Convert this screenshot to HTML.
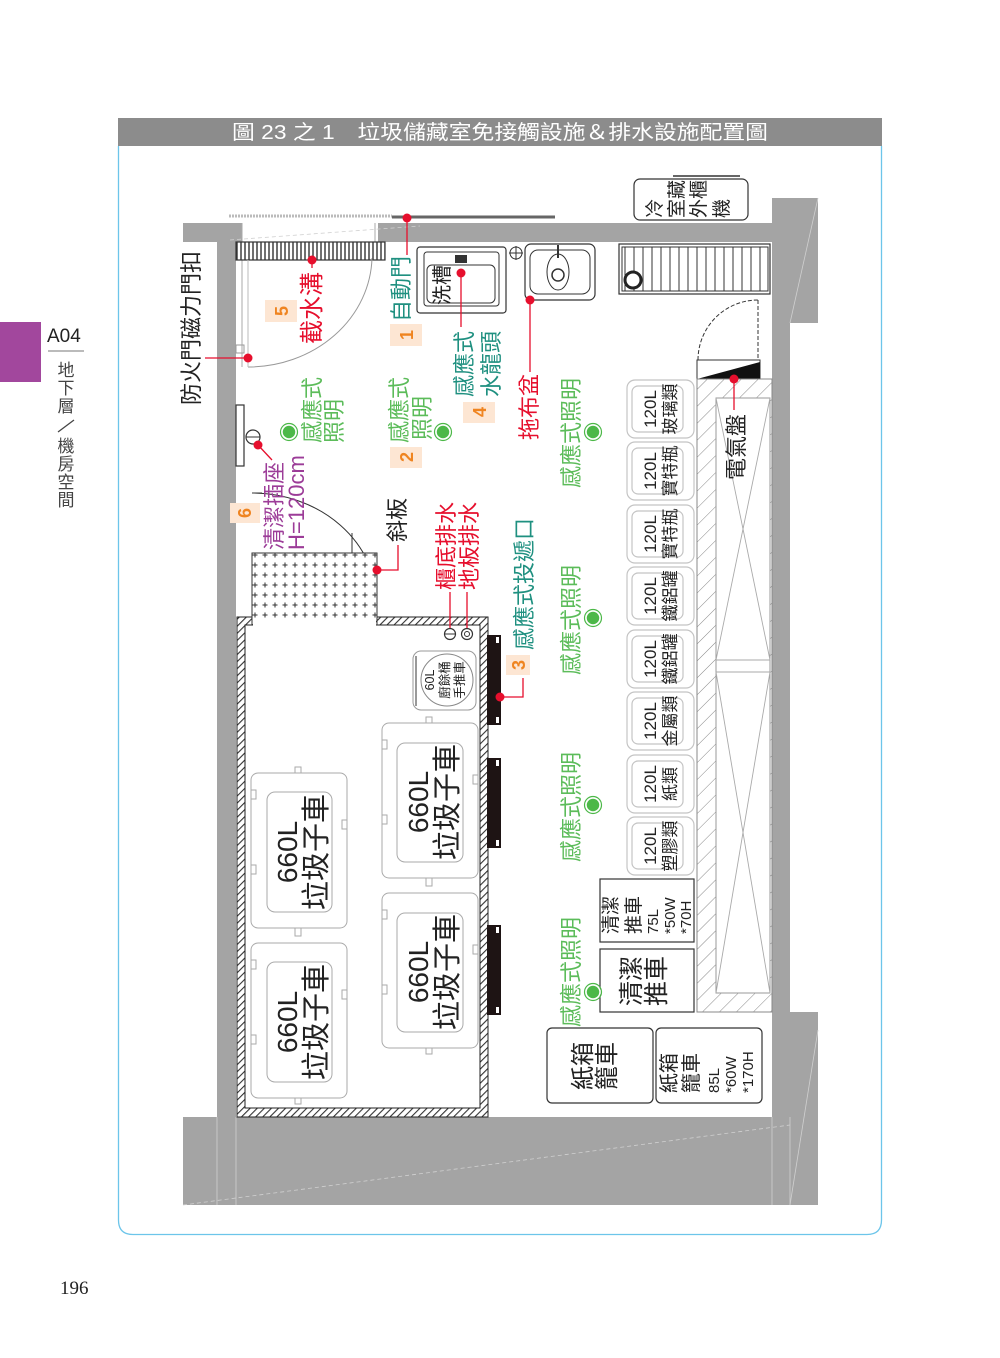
<!DOCTYPE html>
<html><head><meta charset="utf-8"><style>
html,body{margin:0;padding:0;background:#fff;}
body{width:1000px;height:1353px;position:relative;overflow:hidden;font-family:"Liberation Sans","Noto Sans CJK TC",sans-serif;}
svg text{font-family:"Liberation Sans","Noto Sans CJK TC",sans-serif;}
</style></head><body>
<svg width="1000" height="1353" viewBox="0 0 1000 1353" xmlns="http://www.w3.org/2000/svg">
<defs>
<pattern id="hatch" width="5" height="5" patternUnits="userSpaceOnUse" patternTransform="rotate(45)">
<rect width="5" height="5" fill="#fff"/><line x1="0" y1="0" x2="0" y2="5" stroke="#333" stroke-width="2.2"/></pattern>
<pattern id="hatch2" width="12" height="12" patternUnits="userSpaceOnUse" patternTransform="rotate(45)">
<rect width="12" height="12" fill="#fff"/><line x1="0" y1="0" x2="0" y2="12" stroke="#888" stroke-width="1"/></pattern>
<pattern id="dots" width="10" height="10" patternUnits="userSpaceOnUse">
<rect width="10" height="10" fill="#fff"/><path d="M5 2.5v5M2.5 5h5" stroke="#333" stroke-width="1"/></pattern>
<pattern id="grate" width="4" height="20" patternUnits="userSpaceOnUse">
<rect width="4" height="20" fill="#fff"/><line x1="1" y1="0" x2="1" y2="20" stroke="#333" stroke-width="1.4"/></pattern>
<pattern id="grate2" width="9" height="60" patternUnits="userSpaceOnUse">
<rect width="9" height="60" fill="#fff"/><line x1="4" y1="0" x2="4" y2="60" stroke="#333" stroke-width="1"/></pattern>
</defs>

<!-- left tab -->
<rect x="0" y="322" width="41" height="60" fill="#a2479d"/>
<text x="47" y="342" font-size="19" fill="#222">A04</text>
<line x1="48" y1="351" x2="84" y2="351" stroke="#777" stroke-width="1"/>
<text x="66" y="376" font-size="17" fill="#444" text-anchor="middle">地</text>
<text x="66" y="394" font-size="17" fill="#444" text-anchor="middle">下</text>
<text x="66" y="412" font-size="17" fill="#444" text-anchor="middle">層</text>
<line x1="58" y1="432" x2="74" y2="420" stroke="#444" stroke-width="1.3"/>
<text x="66" y="452" font-size="17" fill="#444" text-anchor="middle">機</text>
<text x="66" y="470" font-size="17" fill="#444" text-anchor="middle">房</text>
<text x="66" y="488" font-size="17" fill="#444" text-anchor="middle">空</text>
<text x="66" y="506" font-size="17" fill="#444" text-anchor="middle">間</text>
<text x="60" y="1294" font-size="19" fill="#222" style="font-family:'Liberation Serif',serif">196</text>

<!-- frame -->
<path d="M118.5 146 V1220 Q118.5 1234.5 133 1234.5 H867 Q881.5 1234.5 881.5 1220 V146" fill="none" stroke="#6cc5ea" stroke-width="1.3"/>
<rect x="118" y="118" width="764" height="28" fill="#8c8c8c"/>
<text x="232" y="139" font-size="20" fill="#fff" textLength="536" lengthAdjust="spacingAndGlyphs">圖 23 之 1　垃圾儲藏室免接觸設施＆排水設施配置圖</text>

<!-- walls -->
<g fill="#a4a4a4">
<rect x="183" y="223" width="59" height="19"/>
<rect x="378" y="223" width="394" height="19"/>
<rect x="217" y="223" width="19" height="895"/>
<rect x="772" y="198" width="46" height="125"/>
<rect x="772" y="198" width="18" height="920"/>
<rect x="790" y="1012" width="28" height="193"/>
<rect x="183" y="1117" width="635" height="88"/>
</g>
<g stroke="#d0d0d0" stroke-width="0.8" fill="none">
<line x1="183" y1="1205" x2="790" y2="1125" stroke-dasharray="4 3"/>
<line x1="217" y1="1117" x2="217" y2="1205"/>
<line x1="236" y1="1117" x2="236" y2="1205"/>
<line x1="772" y1="1117" x2="772" y2="1205"/>
<line x1="790" y1="1117" x2="790" y2="1205"/>
<line x1="790" y1="323" x2="818" y2="198"/>
<line x1="790" y1="1205" x2="818" y2="1030"/>
<line x1="230" y1="240" x2="420" y2="226" stroke-dasharray="4 3"/>
</g>
<line x1="242" y1="223" x2="242" y2="367" stroke="#aaa" stroke-width="1"/>
<line x1="375" y1="223" x2="375" y2="243" stroke="#aaa" stroke-width="1"/>

<!-- sliding door rails -->
<line x1="229" y1="216" x2="392" y2="216" stroke="#bbb" stroke-width="3" stroke-dasharray="2 1"/>
<line x1="392" y1="217" x2="555" y2="217" stroke="#666" stroke-width="3"/>

<!-- drain grating -->
<rect x="236" y="242" width="149" height="18" fill="url(#grate)" stroke="#333" stroke-width="1.2"/>

<!-- fire door swing -->
<path d="M248 367 A124 112 0 0 0 372 258" fill="none" stroke="#999" stroke-width="1"/>
<line x1="248" y1="260" x2="248" y2="367" stroke="#bbb" stroke-width="1"/>
<rect x="236" y="345" width="8" height="8" fill="none" stroke="#999" stroke-width="1"/>

<!-- outlet -->
<rect x="236" y="405" width="8" height="61" fill="#fff" stroke="#333" stroke-width="1.2"/>
<circle cx="253" cy="437" r="7" fill="#fff" stroke="#333" stroke-width="1.2"/>
<line x1="246" y1="437" x2="260" y2="437" stroke="#333"/>

<!-- ramp -->
<path d="M252 493 A125 110 0 0 1 377 603" fill="none" stroke="#333" stroke-width="1"/>
<line x1="252" y1="493" x2="262" y2="493" stroke="#333"/>
<line x1="352" y1="533" x2="352" y2="553" stroke="#333"/>
<rect x="252" y="553" width="125" height="67" fill="url(#dots)" stroke="#333" stroke-width="1"/>

<!-- enclosure -->
<rect x="237" y="617" width="251" height="500" fill="url(#hatch)" stroke="#222" stroke-width="1"/>
<rect x="245" y="625" width="235" height="483" fill="#fff" stroke="#222" stroke-width="1"/>
<rect x="253" y="610" width="123" height="16" fill="#fff"/>
<rect x="252" y="600" width="125" height="20" fill="url(#dots)"/>
<line x1="252" y1="600" x2="252" y2="625" stroke="#333"/>
<line x1="377" y1="600" x2="377" y2="625" stroke="#333"/>
<!-- black doors -->
<g fill="#1e1414"><rect x="487" y="635" width="14" height="90"/><rect x="487" y="758" width="14" height="90"/><rect x="487" y="925" width="14" height="90"/></g>
<g fill="#fff"><rect x="496" y="637" width="3" height="6"/><rect x="496" y="717" width="3" height="6"/><rect x="496" y="760" width="3" height="6"/><rect x="496" y="840" width="3" height="6"/><rect x="496" y="927" width="3" height="6"/><rect x="496" y="1007" width="3" height="6"/></g>

<!-- drains -->
<circle cx="450" cy="634" r="5.5" fill="#fff" stroke="#333" stroke-width="1.2"/><line x1="444" y1="634" x2="456" y2="634" stroke="#333"/>
<circle cx="467" cy="634" r="5.5" fill="#fff" stroke="#333" stroke-width="1.2"/><circle cx="467" cy="634" r="2.5" fill="none" stroke="#333"/>

<!-- 60L -->
<rect x="413" y="651" width="63" height="59" rx="8" fill="#fff" stroke="#999" stroke-width="1"/>
<line x1="416" y1="656" x2="416" y2="706" stroke="#999" stroke-width="2"/>
<circle cx="447" cy="680" r="26" fill="#fff" stroke="#888" stroke-width="1"/>
<g font-size="12.5" fill="#222" text-anchor="middle">
<text transform="translate(434,680) rotate(-90)">60L</text>
<text transform="translate(449,680) rotate(-90)">廚餘桶</text>
<text transform="translate(464,680) rotate(-90)">手推車</text>
</g>

<!-- 660L carts -->
<g fill="#fff" stroke="#aaa" stroke-width="1">
<rect x="251" y="773" width="96" height="155" rx="7"/><rect x="267" y="792" width="65" height="120" rx="8"/>
<rect x="251" y="943" width="96" height="155" rx="7"/><rect x="267" y="962" width="65" height="120" rx="8"/>
<rect x="382" y="723" width="96" height="155" rx="7"/><rect x="397" y="743" width="66" height="119" rx="8"/>
<rect x="382" y="893" width="96" height="155" rx="7"/><rect x="397" y="913" width="66" height="119" rx="8"/>
<rect x="295" y="767" width="6" height="6"/><rect x="295" y="928" width="6" height="8"/><rect x="295" y="1098" width="6" height="6"/>
<rect x="426" y="717" width="6" height="6"/><rect x="426" y="878" width="6" height="8"/><rect x="426" y="1048" width="6" height="6"/>
<rect x="251" y="790" width="5" height="9"/><rect x="251" y="865" width="5" height="9"/><rect x="342" y="820" width="5" height="9"/>
<rect x="251" y="960" width="5" height="9"/><rect x="251" y="1035" width="5" height="9"/><rect x="342" y="990" width="5" height="9"/>
<rect x="382" y="740" width="5" height="9"/><rect x="382" y="815" width="5" height="9"/><rect x="473" y="775" width="5" height="9"/>
<rect x="382" y="910" width="5" height="9"/><rect x="382" y="985" width="5" height="9"/><rect x="473" y="945" width="5" height="9"/>
</g>
<g fill="#222" text-anchor="middle">
<text transform="translate(297,852) rotate(-90)" font-size="28">660L</text>
<text transform="translate(326,852) rotate(-90)" font-size="29">垃圾子車</text>
<text transform="translate(297,1022) rotate(-90)" font-size="28">660L</text>
<text transform="translate(326,1022) rotate(-90)" font-size="29">垃圾子車</text>
<text transform="translate(428,802) rotate(-90)" font-size="28">660L</text>
<text transform="translate(457,802) rotate(-90)" font-size="29">垃圾子車</text>
<text transform="translate(428,972) rotate(-90)" font-size="28">660L</text>
<text transform="translate(457,972) rotate(-90)" font-size="29">垃圾子車</text>
</g>

<!-- sink -->
<rect x="417" y="247" width="89" height="66" rx="3" fill="#fff" stroke="#333" stroke-width="1.2"/>
<rect x="424" y="252" width="75" height="54" rx="3" fill="none" stroke="#333" stroke-width="1"/>
<rect x="427" y="265" width="68" height="38" rx="5" fill="none" stroke="#333" stroke-width="1"/>
<text transform="translate(449,305) rotate(-90)" font-size="20" fill="#222">洗槽</text>
<rect x="455" y="255" width="12" height="8" fill="#333"/>
<circle cx="516" cy="253" r="6" fill="#fff" stroke="#333"/><line x1="509" y1="253" x2="523" y2="253" stroke="#333"/><line x1="516" y1="246" x2="516" y2="260" stroke="#333"/>

<!-- mop sink -->
<rect x="525" y="244" width="70" height="56" rx="6" fill="#fff" stroke="#333" stroke-width="1.2"/>
<rect x="530" y="250" width="60" height="44" rx="8" fill="none" stroke="#333"/>
<ellipse cx="558" cy="272" rx="11" ry="18" fill="none" stroke="#333"/>
<circle cx="558" cy="275" r="6" fill="none" stroke="#333" stroke-width="1.5"/>
<line x1="558" y1="245" x2="558" y2="258" stroke="#333" stroke-width="2"/>

<!-- right grating -->
<rect x="619" y="244" width="151" height="50" fill="#fff" stroke="#333" stroke-width="1.2"/>
<rect x="622" y="247" width="146" height="44" fill="url(#grate2)" stroke="#333" stroke-width="1"/>
<circle cx="633" cy="280" r="8" fill="#fff" stroke="#222" stroke-width="3"/>

<!-- fridge outdoor unit -->
<rect x="634" y="179" width="114" height="41" rx="6" fill="#fff" stroke="#333" stroke-width="1.2"/>
<line x1="673" y1="176" x2="740" y2="176" stroke="#333" stroke-width="1.5"/>
<g font-size="19" fill="#222">
<text transform="translate(661,218) rotate(-90)">冷</text>
<text transform="translate(683,218) rotate(-90)">室藏</text>
<text transform="translate(705,218) rotate(-90)">外櫃</text>
<text transform="translate(728,218) rotate(-90)">機</text>
</g>

<!-- electric panel -->
<path d="M698 360 A60 60 0 0 1 758 300" fill="none" stroke="#333" stroke-width="1" stroke-dasharray="4 2"/>
<line x1="758" y1="300" x2="758" y2="360" stroke="#333" stroke-width="1" stroke-dasharray="4 2"/>
<rect x="697" y="360" width="63" height="19" fill="#fff" stroke="#333" stroke-width="1"/>
<polygon points="697,379 760,362 760,379" fill="#111"/>
<rect x="697" y="379" width="75" height="633" fill="url(#hatch2)" stroke="#888" stroke-width="1"/>
<rect x="716" y="398" width="54" height="595" fill="#fff" stroke="#999" stroke-width="1"/>
<g stroke="#aaa" stroke-width="0.9">
<line x1="716" y1="398" x2="770" y2="660"/><line x1="770" y1="398" x2="716" y2="660"/>
<line x1="716" y1="660" x2="770" y2="660"/><line x1="716" y1="672" x2="770" y2="672"/>
<line x1="716" y1="672" x2="770" y2="993"/><line x1="770" y1="672" x2="716" y2="993"/>
</g>

<!-- 120L bins -->
<g fill="#fff" stroke="#c4c4c4" stroke-width="1.2">
<rect x="627" y="380" width="67" height="58" rx="8"/><rect x="632" y="386" width="51" height="46" rx="6"/>
<rect x="627" y="442" width="67" height="58" rx="8"/><rect x="632" y="448" width="51" height="46" rx="6"/>
<rect x="627" y="505" width="67" height="58" rx="8"/><rect x="632" y="511" width="51" height="46" rx="6"/>
<rect x="627" y="567" width="67" height="58" rx="8"/><rect x="632" y="573" width="51" height="46" rx="6"/>
<rect x="627" y="630" width="67" height="58" rx="8"/><rect x="632" y="636" width="51" height="46" rx="6"/>
<rect x="627" y="692" width="67" height="58" rx="8"/><rect x="632" y="698" width="51" height="46" rx="6"/>
<rect x="627" y="755" width="67" height="58" rx="8"/><rect x="632" y="761" width="51" height="46" rx="6"/>
<rect x="627" y="817" width="67" height="58" rx="8"/><rect x="632" y="823" width="51" height="46" rx="6"/>
</g>
<g font-size="17" fill="#222" text-anchor="middle">
<text transform="translate(656,409) rotate(-90)">120L</text><text transform="translate(676,409) rotate(-90)">玻璃類</text>
<text transform="translate(656,471) rotate(-90)">120L</text><text transform="translate(676,471) rotate(-90)">寶特瓶</text>
<text transform="translate(656,534) rotate(-90)">120L</text><text transform="translate(676,534) rotate(-90)">寶特瓶</text>
<text transform="translate(656,596) rotate(-90)">120L</text><text transform="translate(676,596) rotate(-90)">鐵鋁罐</text>
<text transform="translate(656,659) rotate(-90)">120L</text><text transform="translate(676,659) rotate(-90)">鐵鋁罐</text>
<text transform="translate(656,721) rotate(-90)">120L</text><text transform="translate(676,721) rotate(-90)">金屬類</text>
<text transform="translate(656,784) rotate(-90)">120L</text><text transform="translate(676,784) rotate(-90)">紙類</text>
<text transform="translate(656,846) rotate(-90)">120L</text><text transform="translate(676,846) rotate(-90)">塑膠類</text>
</g>

<!-- cleaning carts -->
<rect x="600" y="879" width="94" height="63" fill="#fff" stroke="#333" stroke-width="1.2"/>
<rect x="600" y="949" width="94" height="63" fill="#fff" stroke="#333" stroke-width="1.2"/>
<g fill="#222">
<text transform="translate(617,934) rotate(-90)" font-size="19">清潔</text>
<text transform="translate(640,934) rotate(-90)" font-size="19">推車</text>
<text transform="translate(658,934) rotate(-90)" font-size="15">75L</text>
<text transform="translate(675,934) rotate(-90)" font-size="15">*50W</text>
<text transform="translate(691,934) rotate(-90)" font-size="15">*70H</text>
<text transform="translate(640,981) rotate(-90)" font-size="25" text-anchor="middle">清潔</text>
<text transform="translate(665,981) rotate(-90)" font-size="25" text-anchor="middle">推車</text>
</g>
<rect x="547" y="1028" width="106" height="75" rx="5" fill="#fff" stroke="#333" stroke-width="1.2"/>
<rect x="656" y="1028" width="106" height="75" rx="5" fill="#fff" stroke="#333" stroke-width="1.2"/>
<g fill="#222">
<text transform="translate(591,1066) rotate(-90)" font-size="24" text-anchor="middle">紙箱</text>
<text transform="translate(615,1066) rotate(-90)" font-size="24" text-anchor="middle">籠車</text>
<text transform="translate(676,1093) rotate(-90)" font-size="20">紙箱</text>
<text transform="translate(698,1093) rotate(-90)" font-size="20">籠車</text>
<text transform="translate(719,1093) rotate(-90)" font-size="15">85L</text>
<text transform="translate(736,1093) rotate(-90)" font-size="15">*60W</text>
<text transform="translate(753,1093) rotate(-90)" font-size="15">*170H</text>
</g>

<!-- green lights -->
<g fill="#4cb848" stroke="#fff" stroke-width="1.5">
<circle cx="289" cy="432" r="7"/><circle cx="443" cy="432" r="7"/>
<circle cx="593" cy="432" r="7"/><circle cx="593" cy="618" r="7"/><circle cx="593" cy="805" r="7"/><circle cx="593" cy="992" r="7"/>
</g>
<g fill="none" stroke="#4cb848" stroke-width="1.2">
<circle cx="289" cy="432" r="8.5"/><circle cx="443" cy="432" r="8.5"/>
<circle cx="593" cy="432" r="8.5"/><circle cx="593" cy="618" r="8.5"/><circle cx="593" cy="805" r="8.5"/><circle cx="593" cy="992" r="8.5"/>
</g>
<g font-size="22" fill="#5cbc5a">
<text transform="translate(320,443) rotate(-90)">感應式</text>
<text transform="translate(342,443) rotate(-90)">照明</text>
<text transform="translate(407,443) rotate(-90)">感應式</text>
<text transform="translate(430,440) rotate(-90)">照明</text>
<text transform="translate(579,488) rotate(-90)">感應式照明</text>
<text transform="translate(579,675) rotate(-90)">感應式照明</text>
<text transform="translate(579,862) rotate(-90)">感應式照明</text>
<text transform="translate(579,1027) rotate(-90)">感應式照明</text>
</g>

<!-- teal labels -->
<g font-size="22" fill="#1f9080">
<text transform="translate(409,322) rotate(-90)">自動門</text>
<text transform="translate(472,397) rotate(-90)">感應式</text>
<text transform="translate(499,397) rotate(-90)">水龍頭</text>
<text transform="translate(532,650) rotate(-90)">感應式投遞口</text>
</g>
<!-- red labels -->
<g font-size="22" fill="#e60f2d">
<text transform="translate(320,344) rotate(-90)" font-size="24">截水溝</text>
<text transform="translate(537,440) rotate(-90)">拖布盆</text>
<text transform="translate(454,590) rotate(-90)">櫃底排水</text>
<text transform="translate(477,590) rotate(-90)">地板排水</text>
</g>
<!-- purple -->
<g font-size="22" fill="#9c3c98">
<text transform="translate(282,550) rotate(-90)">清潔插座</text>
<text transform="translate(304,550) rotate(-90)">H=120cm</text>
</g>
<!-- black -->
<g font-size="22" fill="#222">
<text transform="translate(199,405) rotate(-90)">防火門磁力門扣</text>
<text transform="translate(405,542) rotate(-90)">斜板</text>
<text transform="translate(744,480) rotate(-90)">電氣盤</text>
</g>

<!-- number boxes -->
<g fill="#fde6d3">
<rect x="265" y="300" width="32" height="22"/><rect x="390" y="324" width="32" height="22"/>
<rect x="390" y="447" width="32" height="21"/><rect x="463" y="402" width="32" height="21"/>
<rect x="230" y="503" width="30" height="20"/><rect x="506" y="655" width="24" height="20"/>
</g>
<g font-size="18" font-weight="bold" fill="#ef8420" text-anchor="middle">
<text transform="translate(288,311) rotate(-90)">5</text>
<text transform="translate(413,335) rotate(-90)">1</text>
<text transform="translate(413,457) rotate(-90)">2</text>
<text transform="translate(486,412) rotate(-90)">4</text>
<text transform="translate(251,513) rotate(-90)">6</text>
<text transform="translate(525,665) rotate(-90)">3</text>
</g>

<!-- red leaders -->
<g stroke="#e60f2d" stroke-width="1.3" fill="none">
<path d="M407 218 V255"/><path d="M312 260 V268"/><path d="M248 358 H205"/>
<path d="M258 445 L272 460"/><path d="M377 570 H398 V545"/>
<path d="M461 273 V327"/><path d="M530 300 V372"/>
<path d="M450 628 V592"/><path d="M467 628 V592"/>
<path d="M500 697 H523 V678"/><path d="M734 379 V410"/>
</g>
<g fill="#e60f2d">
<circle cx="407" cy="218" r="4.5"/><circle cx="312" cy="260" r="4.5"/><circle cx="248" cy="358" r="4.5"/>
<circle cx="258" cy="445" r="4.5"/><circle cx="377" cy="570" r="4.5"/><circle cx="461" cy="273" r="4.5"/>
<circle cx="530" cy="300" r="4.5"/><circle cx="500" cy="697" r="4.5"/><circle cx="734" cy="379" r="4.5"/>
</g>
</svg>
</body></html>
